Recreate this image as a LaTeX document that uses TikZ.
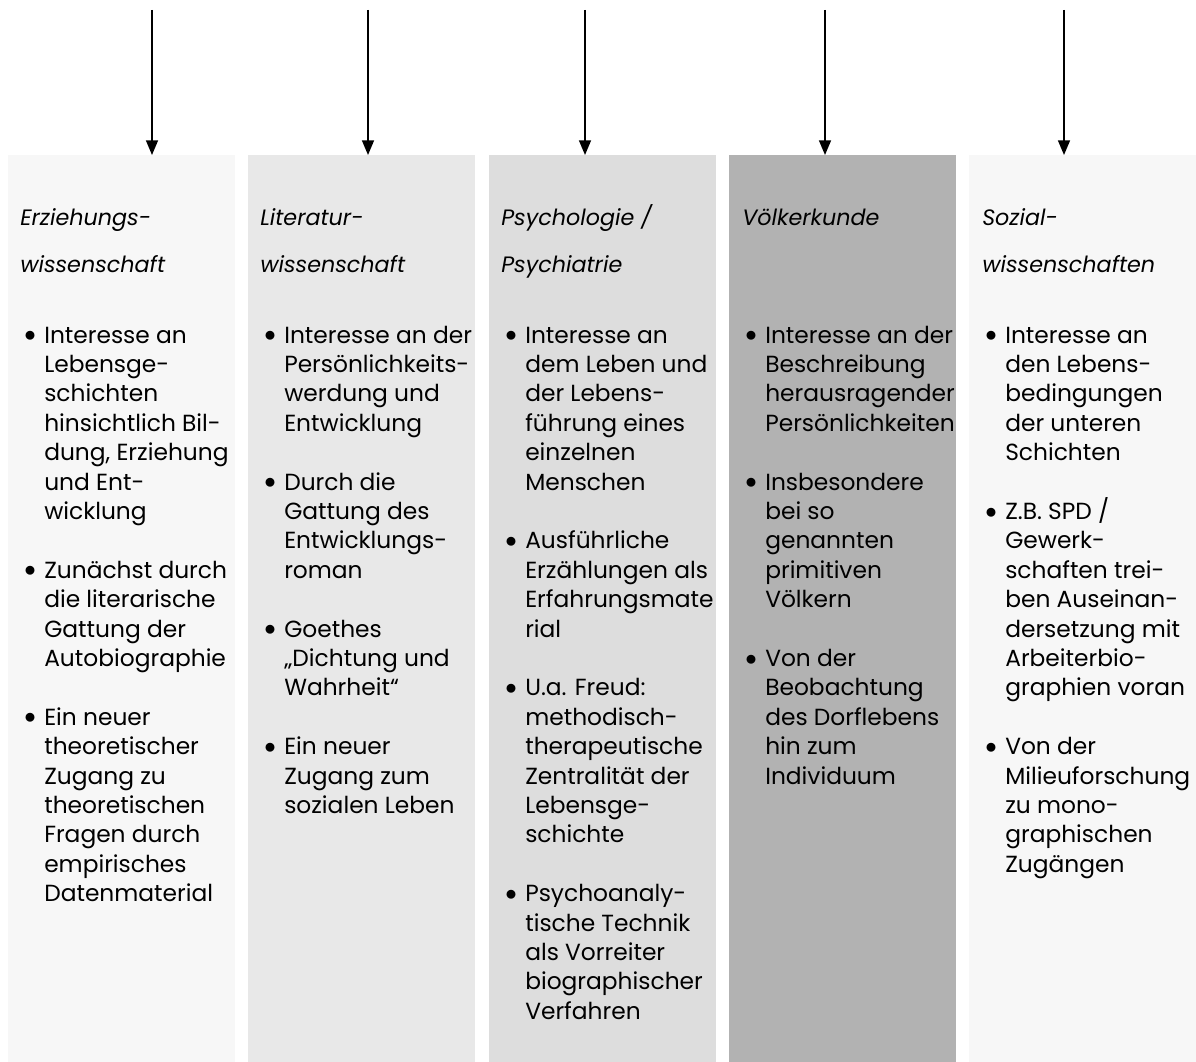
\documentclass[tikz,border=0pt]{standalone}
\usepackage{fontspec}
\setmainfont{Poppins}
\usetikzlibrary{arrows.meta}

\definecolor{grayA}{HTML}{F7F7F7}
\definecolor{grayB}{HTML}{E8E8E8}
\definecolor{grayC}{HTML}{DDDDDD}
\definecolor{grayD}{HTML}{B2B2B2}

\newcommand{\bpt}{\makebox[15pt][l]{\raisebox{1pt}{$\bullet$}}}
\newcommand{\cont}{\hspace*{15pt}}

\begin{document}
\begin{tikzpicture}[x=0.75pt, y=-0.75pt,
    every node/.style={inner sep=0pt, align=left},
    colbox/.style={anchor=north west, minimum width=170.25pt, minimum height=680.25pt},
    head/.style={anchor=base west, font=\fontsize{16.7}{35.25}\selectfont\itshape},
    body/.style={anchor=base west, font=\fontsize{17.5}{22.05}\selectfont},
    arr/.style={-{Triangle[length=11pt, width=9pt]}, line width=1.1pt}]
    \useasboundingbox (0,0) rectangle (1196,1062);

    % Columns
    \node[colbox, fill=grayA] (col-1) at (8,155) {};
    \node[colbox, fill=grayB] (col-2) at (248,155) {};
    \node[colbox, fill=grayC] (col-3) at (489,155) {};
    \node[colbox, fill=grayD] (col-4) at (729,155) {};
    \node[colbox, fill=grayA] (col-5) at (969,155) {};

    % Arrows into the columns
    \coordinate (in-1) at (152,10);
    \coordinate (in-2) at (368,10);
    \coordinate (in-3) at (585,10);
    \coordinate (in-4) at (825,10);
    \coordinate (in-5) at (1064,10);
    \draw[arr] (in-1) -- (in-1 |- col-1.north);
    \draw[arr] (in-2) -- (in-2 |- col-2.north);
    \draw[arr] (in-3) -- (in-3 |- col-3.north);
    \draw[arr] (in-4) -- (in-4 |- col-4.north);
    \draw[arr] (in-5) -- (in-5 |- col-5.north);

    % Headings (placed at the baseline of their last line)
    \node[head] (head-1) at (20,273) {Erziehungs-\\wissenschaft};
    \node[head] (head-2) at (260,273) {Literatur-\\wissenschaft};
    \node[head] (head-3) at (501,273) {Psychologie /\\Psychiatrie};
    \node[head] (head-4) at (742,226) {Völkerkunde};
    \node[head] (head-5) at (982,273) {Sozial-\\wissenschaften};

    % Bullet lists (placed at the baseline of their last line)
    \node[body] (text-1) at (24,901.6) {\bpt Interesse an\\\cont Lebensge-\\\cont schichten\\\cont hinsichtlich Bil-\\\cont dung, Erziehung\\\cont und Ent-\\\cont wicklung\\[22.05pt]
        \bpt Zunächst durch\\\cont die literarische\\\cont Gattung der\\\cont Autobiographie\\[22.05pt]
        \bpt Ein neuer\\\cont theoretischer\\\cont Zugang zu\\\cont theoretischen\\\cont Fragen durch\\\cont empirisches\\\cont Datenmaterial};
    \node[body] (text-2) at (264,813.4) {\bpt Interesse an der\\\cont Persönlichkeits-\\\cont werdung und\\\cont Entwicklung\\[22.05pt]
        \bpt Durch die\\\cont Gattung des\\\cont Entwicklungs-\\\cont roman\\[22.05pt]
        \bpt Goethes\\\cont „Dichtung und\\\cont Wahrheit“\\[22.05pt]
        \bpt Ein neuer\\\cont Zugang zum\\\cont sozialen Leben};
    \node[body] (text-3) at (505,1019.2) {\bpt Interesse an\\\cont dem Leben und\\\cont der Lebens-\\\cont führung eines\\\cont einzelnen\\\cont Menschen\\[22.05pt]
        \bpt Ausführliche\\\cont Erzählungen als\\\cont Erfahrungsmate\\\cont rial\\[22.05pt]
        \bpt U.a. Freud:\\\cont methodisch-\\\cont therapeutische\\\cont Zentralität der\\\cont Lebensge-\\\cont schichte\\[22.05pt]
        \bpt Psychoanaly-\\\cont tische Technik\\\cont als Vorreiter\\\cont biographischer\\\cont Verfahren};
    \node[body] (text-4) at (745,784) {\bpt Interesse an der\\\cont Beschreibung\\\cont herausragender\\\cont Persönlichkeiten\\[22.05pt]
        \bpt Insbesondere\\\cont bei so\\\cont genannten\\\cont primitiven\\\cont Völkern\\[22.05pt]
        \bpt Von der\\\cont Beobachtung\\\cont des Dorflebens\\\cont hin zum\\\cont Individuum};
    \node[body] (text-5) at (985,872.2) {\bpt Interesse an\\\cont den Lebens-\\\cont bedingungen\\\cont der unteren\\\cont Schichten\\[22.05pt]
        \bpt Z.B. SPD /\\\cont Gewerk-\\\cont schaften trei-\\\cont ben Auseinan-\\\cont dersetzung mit\\\cont Arbeiterbio-\\\cont graphien voran\\[22.05pt]
        \bpt Von der\\\cont Milieuforschung\\\cont zu mono-\\\cont graphischen\\\cont Zugängen};
\end{tikzpicture}
\end{document}
